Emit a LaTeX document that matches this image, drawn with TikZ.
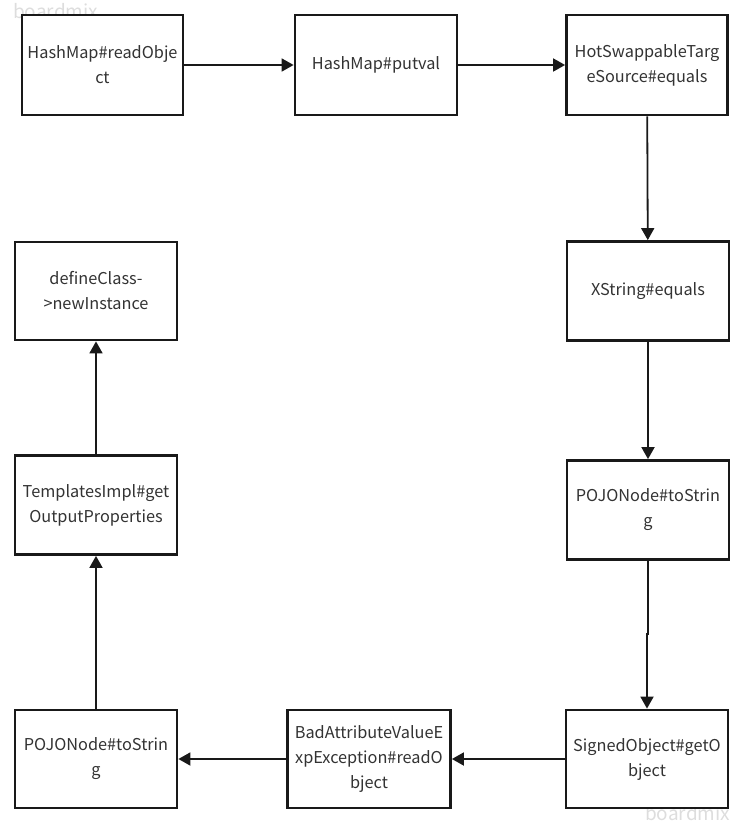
\documentclass[tikz,border=0pt]{standalone}
\usepackage{fontspec}
\setmainfont{Noto Sans CJK SC}
\usetikzlibrary{arrows.meta}
\definecolor{txt}{HTML}{333333}
\definecolor{wm}{HTML}{DDDDDD}
\tikzset{
  box/.style={draw=black!90, line width=2.8pt, fill=white, inner sep=0pt, align=center,
    text=txt, font=\fontsize{16.3}{25}\selectfont},
  conn/.style={draw=black!90, line width=1.8pt, -{Triangle[length=12pt,width=13pt]}},
  wmark/.style={text=wm, font=\fontsize{19}{20}\selectfont, inner sep=0pt, anchor=west}
}
\begin{document}
\begin{tikzpicture}[x=1pt,y=-1pt]
\useasboundingbox (0,0) rectangle (745,825);
\node[wmark] (w1) at (13,11) {boardmix};
\node[wmark] (w2) at (645,813) {boardmix};
% boxes
\node[box, minimum width=161pt, minimum height=100pt] (b1) at (102.5,65) {HashMap\#readObje\\ct};
\node[box, minimum width=162pt, minimum height=100pt] (b2) at (376,65) {HashMap\#putval};
\node[box, minimum width=161pt, minimum height=100pt] (b3) at (647,65) {HotSwappableTarg\\eSource\#equals};
\node[box, minimum width=162pt, minimum height=99pt] (b4) at (648,291) {XString\#equals};
\node[box, minimum width=162pt, minimum height=99pt] (b5) at (648,510) {POJONode\#toStrin\\g};
\node[box, minimum width=162pt, minimum height=98pt] (b6) at (647,759) {SignedObject\#getO\\bject};
\node[box, minimum width=163pt, minimum height=98pt] (b7) at (369,759) {BadAttributeValueE\\xpException\#readO\\bject};
\node[box, minimum width=162pt, minimum height=98pt] (b8) at (96,759) {POJONode\#toStrin\\g};
\node[box, minimum width=162pt, minimum height=99pt] (b9) at (96,505) {TemplatesImpl\#get\\OutputProperties};
\node[box, minimum width=162pt, minimum height=98pt] (b10) at (96,291) {defineClass-\\>newInstance};
% connectors
\draw[conn] (b1) -- (b2);
\draw[conn] (b2) -- (b3);
\draw[conn] (b3) -- (b4);
\draw[conn] (b4) -- (b5);
\coordinate (j1) at ([yshift=-73pt]b5.south);
\coordinate (j2) at ([xshift=-1pt]j1);
\draw[conn] (b5.south) -- (j1) -- (j2) -- (j2 |- b6.north);
\draw[conn] (b6) -- (b7);
\draw[conn] (b7) -- (b8);
\draw[conn] (b8) -- (b9);
\draw[conn] (b9) -- (b10);
\end{tikzpicture}
\end{document}
